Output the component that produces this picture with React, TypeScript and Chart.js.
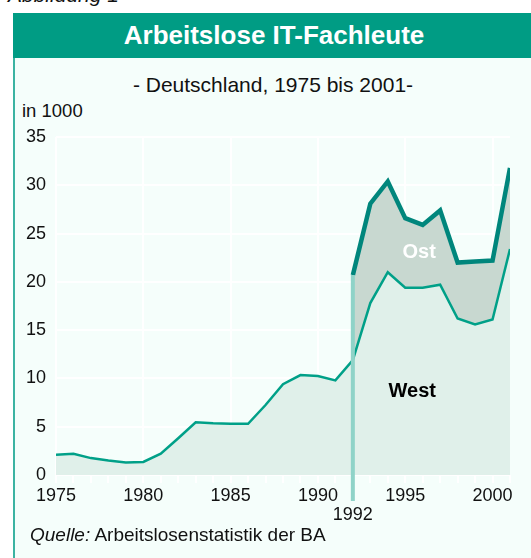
import React, { useEffect, useRef } from 'react';
import { Chart, registerables } from 'chart.js';

Chart.register(...registerables);

// ---- data ----
const YEARS = [1975, 1976, 1977, 1978, 1979, 1980, 1981, 1982, 1983, 1984, 1985, 1986, 1987, 1988,
  1989, 1990, 1991, 1992, 1993, 1994, 1995, 1996, 1997, 1998, 1999, 2000, 2001];
// West (in 1000)
const WEST = [2.1, 2.2, 1.75, 1.5, 1.3, 1.35, 2.2, 3.8, 5.45, 5.35, 5.3, 5.3, 7.25, 9.4,
  10.35, 10.25, 9.8, 11.9, 17.8, 21.0, 19.4, 19.4, 19.7, 16.2, 15.6, 16.1, 23.4];
// West + Ost (in 1000), from 1992
const TOTAL_YEARS = [1992, 1993, 1994, 1995, 1996, 1997, 1998, 1999, 2000, 2001];
const TOTAL = [20.7, 28.1, 30.4, 26.6, 25.9, 27.4, 22.0, 22.1, 22.2, 31.8];
const Y_MIN = 0;
const Y_MAX = 35;
const Y_STEP = 5;
const X_LABEL_STEP = 5;
const MARK_YEAR = 1992;
const OST_LABEL: [number, number] = [1995.8, 22.5];
const WEST_LABEL: [number, number] = [1995.4, 8.1];

const FONT = '"Liberation Sans", Arial, Helvetica, sans-serif';

const overlay = {
  id: 'overlay',
  afterDatasetsDraw(chart: any) {
    const { ctx, scales, chartArea } = chart;
    const x = scales.x;
    const y = scales.y;
    const px = x.getPixelForValue(MARK_YEAR);
    const top = y.getPixelForValue(TOTAL[TOTAL_YEARS.indexOf(MARK_YEAR)]);
    ctx.save();
    ctx.strokeStyle = '#8fd3c8';
    ctx.lineWidth = 4;
    ctx.beginPath();
    ctx.moveTo(px, top);
    ctx.lineTo(px, chartArea.bottom + 26);
    ctx.stroke();
    ctx.font = `bold 20px ${FONT}`;
    ctx.textAlign = 'center';
    ctx.textBaseline = 'alphabetic';
    ctx.fillStyle = '#ffffff';
    ctx.fillText('Ost', x.getPixelForValue(OST_LABEL[0]), y.getPixelForValue(OST_LABEL[1]));
    ctx.fillStyle = '#000000';
    ctx.fillText('West', x.getPixelForValue(WEST_LABEL[0]), y.getPixelForValue(WEST_LABEL[1]));
    ctx.restore();
  },
};

export default function App() {
  const ref = useRef<HTMLCanvasElement | null>(null);

  useEffect(() => {
    if (!ref.current) return;
    const westData = YEARS.map((yr, i) => ({ x: yr, y: WEST[i] }));
    const totalData = YEARS.map((yr) => {
      const k = TOTAL_YEARS.indexOf(yr);
      return { x: yr, y: k >= 0 ? TOTAL[k] : null };
    });
    const chart = new Chart(ref.current, {
      type: 'line',
      data: {
        datasets: [
          {
            label: 'West',
            data: westData as any,
            borderColor: '#00a088',
            borderWidth: 2.5,
            backgroundColor: '#e0f0ea',
            fill: 'origin',
            pointRadius: 0,
            tension: 0,
          },
          {
            label: 'Ost',
            data: totalData as any,
            borderColor: '#00867c',
            borderWidth: 4.5,
            backgroundColor: '#c8d8d0',
            fill: '-1',
            pointRadius: 0,
            tension: 0,
            spanGaps: false,
          },
        ],
      },
      options: {
        responsive: false,
        animation: false,
        layout: { padding: { left: 0, top: 137, right: 21, bottom: 0 } },
        plugins: {
          legend: { display: false },
          tooltip: { enabled: false },
          title: { display: false },
        },
        scales: {
          x: {
            type: 'linear',
            min: YEARS[0],
            max: YEARS[YEARS.length - 1],
            border: { display: false },
            grid: {
              color: (c: any) => (c.tick && c.tick.value % X_LABEL_STEP === 0 ? '#ffffff' : 'rgba(0,0,0,0)'),
              lineWidth: 2,
              tickColor: '#ffffff',
              tickWidth: 2,
              tickLength: 8,
              drawTicks: true,
            },
            ticks: {
              stepSize: 1,
              autoSkip: false,
              maxRotation: 0,
              minRotation: 0,
              padding: 4,
              color: '#111111',
              font: { family: FONT, size: 18, lineHeight: 1.05 },
              callback: (v: any) => {
                const n = Number(v);
                if (n % X_LABEL_STEP === 0) return String(n);
                if (n === MARK_YEAR) return ['', String(n)];
                return '';
              },
            },
            afterFit: (s: any) => {
              s.height = 83;
            },
          },
          y: {
            min: Y_MIN,
            max: Y_MAX,
            border: { display: false },
            grid: { color: '#ffffff', lineWidth: 2, drawTicks: false },
            ticks: {
              stepSize: Y_STEP,
              padding: 10,
              color: '#111111',
              font: { family: FONT, size: 18 },
            },
            afterFit: (s: any) => {
              s.width = 56;
            },
          },
        },
      },
      plugins: [overlay],
    });
    return () => chart.destroy();
  }, []);

  return (
    <div style={{ position: 'absolute', left: 0, top: 0, width: 531, height: 558, overflow: 'hidden', background: '#ffffff', fontFamily: FONT }}>
      <div style={{ position: 'absolute', left: 8, top: -16, fontSize: 21, lineHeight: '21px', fontStyle: 'italic', color: '#111', whiteSpace: 'nowrap' }}>
        Abbildung 1
      </div>
      <div style={{ position: 'absolute', left: 13, top: 13, width: 518, height: 545, background: '#f5fefb', borderLeft: '2.5px solid #3cb3a2', boxSizing: 'border-box' }} />
      <div style={{ position: 'absolute', left: 13, top: 13, width: 518, height: 45, background: '#009c84' }} />
      <div style={{ position: 'absolute', left: 13, top: 22, width: 522, textAlign: 'center', fontSize: 26, lineHeight: '26px', fontWeight: 'bold', color: '#ffffff', whiteSpace: 'nowrap' }}>
        Arbeitslose IT-Fachleute
      </div>
      <div style={{ position: 'absolute', left: 13, top: 74, width: 520, textAlign: 'center', fontSize: 21, lineHeight: '21px', color: '#111', whiteSpace: 'nowrap' }}>
        - Deutschland, 1975 bis 2001-
      </div>
      <div style={{ position: 'absolute', left: 22, top: 102, fontSize: 18.5, lineHeight: '18.5px', color: '#111', whiteSpace: 'nowrap' }}>
        in 1000
      </div>
      <canvas ref={ref} width={531} height={558} style={{ position: 'absolute', left: 0, top: 0, width: 531, height: 558 }} />
      <div style={{ position: 'absolute', left: 30, top: 525, fontSize: 19, lineHeight: '19px', color: '#111', whiteSpace: 'nowrap' }}>
        <i>Quelle:</i> Arbeitslosenstatistik der BA
      </div>
    </div>
  );
}
